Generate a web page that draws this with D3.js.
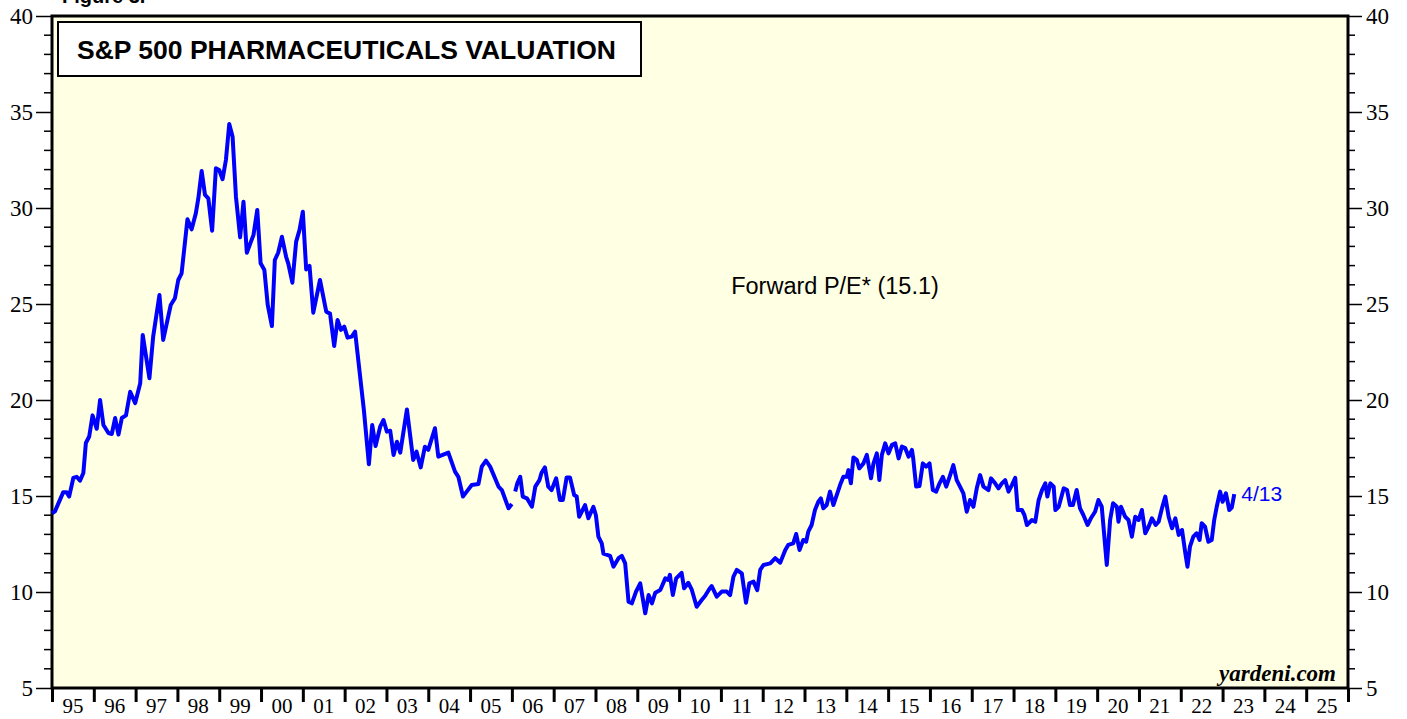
<!DOCTYPE html>
<html>
<head>
<meta charset="utf-8">
<script src="https://cdn.jsdelivr.net/npm/d3@7"></script>
<style>
  body { margin: 0; background: #fff; }
  svg { display: block; }
</style>
</head>
<body>
<svg id="chart"></svg>
<script>
// Forward P/E, first stretch (1995 - end 2005), decimal years
const years1 = [1995.00, 1995.07, 1995.27, 1995.35, 1995.41, 1995.51, 1995.59, 1995.67, 1995.75, 1995.81, 1995.89, 1995.97,
  1996.07, 1996.15, 1996.23, 1996.35, 1996.43, 1996.51, 1996.59, 1996.67, 1996.77, 1996.87, 1996.99,
  1997.11, 1997.17, 1997.33, 1997.42, 1997.57, 1997.66, 1997.84, 1997.94,
  1998.02, 1998.10, 1998.24, 1998.34, 1998.44, 1998.50, 1998.58, 1998.66, 1998.74, 1998.83, 1998.92,
  1999.00, 1999.08, 1999.16, 1999.24, 1999.32, 1999.40, 1999.50, 1999.58, 1999.66, 1999.82, 1999.91, 1999.99,
  2000.08, 2000.16, 2000.26, 2000.33, 2000.41, 2000.50, 2000.60, 2000.65, 2000.75, 2000.84, 2000.92,
  2001.00, 2001.08, 2001.16, 2001.25, 2001.41, 2001.56, 2001.65, 2001.75, 2001.83, 2001.91, 2001.99,
  2002.07, 2002.17, 2002.25, 2002.46, 2002.58, 2002.66, 2002.74, 2002.85, 2002.93,
  2003.01, 2003.09, 2003.17, 2003.25, 2003.33, 2003.49, 2003.64, 2003.72, 2003.82, 2003.92,
  2004.00, 2004.16, 2004.24, 2004.48, 2004.64, 2004.72, 2004.83, 2004.92,
  2005.04, 2005.20, 2005.28, 2005.38, 2005.48, 2005.68, 2005.76, 2005.92, 2006.00];
const pe1 = [14.1, 14.2, 15.2, 15.2, 14.97, 15.94, 16.0, 15.8, 16.2, 17.76, 18.1, 19.2,
  18.5, 20.0, 18.7, 18.28, 18.23, 19.06, 18.2, 19.06, 19.2, 20.43, 19.84,
  20.87, 23.39, 21.13, 23.3, 25.47, 23.13, 24.95, 25.3,
  26.25, 26.6, 29.41, 28.89, 29.72, 30.5, 31.93, 30.68, 30.5, 28.82, 32.07,
  31.98, 31.5, 32.5, 34.38, 33.71, 30.59, 28.47, 30.33, 27.67, 28.6, 29.9, 27.12,
  26.77, 24.95, 23.85, 27.29, 27.67, 28.5, 27.46, 27.12, 26.11, 28.25, 28.85,
  29.81, 26.8, 26.98, 24.55, 26.25, 24.6, 24.5, 22.81, 24.17, 23.65, 23.82,
  23.25, 23.3, 23.56, 19.48, 16.65, 18.7, 17.6, 18.61, 18.96,
  18.35, 18.4, 17.14, 17.83, 17.26, 19.51, 16.88, 17.31, 16.49, 17.57,
  17.4, 18.53, 17.05, 17.26, 16.27, 16.0, 14.97, 15.23,
  15.57, 15.62, 16.53, 16.84, 16.53, 15.49, 15.31, 14.36, 14.58];

// Second stretch (2006 - 4/13/2023)
const years2 = [2006.08, 2006.13, 2006.20, 2006.26, 2006.36, 2006.48, 2006.56, 2006.66, 2006.71, 2006.79, 2006.87, 2006.95,
  2007.06, 2007.15, 2007.22, 2007.31, 2007.39, 2007.49, 2007.55, 2007.61, 2007.67, 2007.75, 2007.83, 2007.95,
  2008.01, 2008.07, 2008.15, 2008.19, 2008.35, 2008.43, 2008.55, 2008.63, 2008.71, 2008.79, 2008.87, 2008.97,
  2009.07, 2009.19, 2009.27, 2009.35, 2009.43, 2009.55, 2009.67, 2009.74, 2009.78, 2009.85, 2009.93,
  2010.06, 2010.12, 2010.22, 2010.30, 2010.42, 2010.54, 2010.62, 2010.72, 2010.78, 2010.90,
  2011.02, 2011.14, 2011.22, 2011.30, 2011.38, 2011.50, 2011.60, 2011.68, 2011.78, 2011.87, 2011.94,
  2012.02, 2012.18, 2012.30, 2012.42, 2012.54, 2012.61, 2012.73, 2012.80, 2012.88, 2012.97,
  2013.04, 2013.09, 2013.17, 2013.25, 2013.33, 2013.39, 2013.45, 2013.53, 2013.61, 2013.69, 2013.77, 2013.85, 2013.93,
  2014.01, 2014.05, 2014.11, 2014.17, 2014.25, 2014.31, 2014.41, 2014.49, 2014.59, 2014.65, 2014.73, 2014.79, 2014.85, 2014.93,
  2015.01, 2015.09, 2015.17, 2015.25, 2015.33, 2015.41, 2015.49, 2015.57, 2015.60, 2015.67, 2015.75, 2015.83, 2015.91, 2015.99,
  2016.07, 2016.15, 2016.23, 2016.31, 2016.39, 2016.47, 2016.56, 2016.64, 2016.72, 2016.80, 2016.88, 2016.96,
  2017.04, 2017.12, 2017.20, 2017.28, 2017.40, 2017.46, 2017.56, 2017.64, 2017.72, 2017.80, 2017.88, 2017.96,
  2018.04, 2018.10, 2018.20, 2018.26, 2018.32, 2018.44, 2018.52, 2018.60, 2018.68, 2018.76, 2018.81, 2018.88, 2018.96,
  2019.00, 2019.08, 2019.20, 2019.28, 2019.35, 2019.42, 2019.51, 2019.59, 2019.67, 2019.77, 2019.85, 2019.95,
  2020.03, 2020.11, 2020.23, 2020.31, 2020.38, 2020.47, 2020.51, 2020.57, 2020.67, 2020.75, 2020.83, 2020.91, 2020.99,
  2021.07, 2021.15, 2021.23, 2021.31, 2021.40, 2021.47, 2021.55, 2021.63, 2021.71, 2021.79, 2021.87, 2021.95,
  2022.03, 2022.11, 2022.16, 2022.22, 2022.30, 2022.38, 2022.45, 2022.50, 2022.58, 2022.66, 2022.74, 2022.80, 2022.86, 2022.94,
  2023.00, 2023.08, 2023.16, 2023.22, 2023.28];
const pe2 = [15.23, 15.66, 16.0, 14.97, 14.88, 14.44, 15.49, 15.83, 16.21, 16.49, 15.49, 15.31,
  15.92, 14.79, 14.79, 15.97, 15.97, 15.05, 14.97, 13.92, 14.18, 14.53, 13.84, 14.44,
  14.0, 12.88, 12.53, 12.0, 11.88, 11.32, 11.76, 11.88, 11.49, 9.5, 9.41, 10.02,
  10.45, 8.89, 9.84, 9.41, 9.96, 10.1, 10.71, 10.63, 10.89, 9.84, 10.71,
  11.0, 10.19, 10.48, 10.14, 9.23, 9.58, 9.79, 10.14, 10.31, 9.76,
  10.02, 10.02, 9.84, 10.8, 11.15, 10.97, 9.44, 10.45, 10.54, 10.1, 11.15,
  11.41, 11.49, 11.76, 11.53, 12.19, 12.45, 12.53, 13.02, 12.19, 12.71,
  12.62, 13.14, 13.49, 14.27, 14.7, 14.88, 14.36, 14.53, 15.23, 14.53, 15.05, 15.57, 16.0,
  16.0, 16.35, 15.66, 17.01, 16.88, 16.44, 16.7, 17.14, 15.92, 16.7, 17.22, 15.83, 17.14, 17.74,
  17.22, 17.66, 17.74, 16.96, 17.57, 17.49, 17.05, 17.4, 16.96, 15.49, 15.52, 16.7, 16.53, 16.7,
  15.31, 15.23, 15.66, 16.0, 15.49, 16.0, 16.61, 15.83, 15.49, 15.14, 14.18, 14.79,
  14.44, 15.4, 16.09, 15.49, 15.31, 15.92, 15.66, 15.4, 15.66, 15.83, 15.23, 15.57,
  15.95, 14.27, 14.27, 14.01, 13.49, 13.75, 13.66, 14.79, 15.31, 15.66, 14.97, 15.66, 15.49,
  14.27, 14.44, 15.4, 15.31, 14.53, 14.53, 15.31, 14.36, 14.01, 13.49, 13.84, 14.18,
  14.79, 14.44, 11.41, 13.75, 14.62, 14.44, 13.66, 14.44, 13.92, 13.75, 12.88, 13.92, 13.75,
  14.27, 13.06, 13.4, 13.84, 13.49, 13.66, 14.36, 14.97, 13.92, 13.32, 13.84, 12.97,
  13.23, 12.01, 11.32, 12.36, 12.88, 13.06, 12.71, 13.58, 13.4, 12.62, 12.71, 13.75, 14.44, 15.23,
  14.7, 15.14, 14.27, 14.4, 15.1];

const yearLabels = ["95","96","97","98","99","00","01","02","03","04","05","06","07","08","09",
  "10","11","12","13","14","15","16","17","18","19","20","21","22","23","24","25"];
const yTicks = [5, 10, 15, 20, 25, 30, 35, 40];

const W = 1407, H = 719;
const mLeft = 52, mRight = 1348, mTop = 16, mBottom = 688;
const serif = "Liberation Serif, Times New Roman, serif";
const sans = "Liberation Sans, Arial, sans-serif";

const svg = d3.select("#chart").attr("width", W).attr("height", H);

const x = d3.scaleLinear().domain([1995, 2026]).range([mLeft, mRight]);
const y = d3.scaleLinear().domain([5, 40]).range([mBottom, mTop]);

// Plot background
svg.append("rect")
  .attr("x", mLeft).attr("y", mTop)
  .attr("width", mRight - mLeft).attr("height", mBottom - mTop)
  .attr("fill", "#ffffe4");

// Figure caption, mostly cut off at the top (as in the original)
svg.append("text")
  .attr("x", 62).attr("y", 3)
  .attr("font-family", sans)
  .attr("font-weight", "bold")
  .attr("font-size", 20)
  .text("Figure 3.");

// Left / right axes with unit minor ticks
const minorTicks = d3.range(5, 41, 1).filter(d => d % 5 !== 0);
const yLeft = d3.axisLeft(y).tickValues(yTicks).tickSize(16).tickPadding(3);
const gl = svg.append("g").attr("transform", `translate(${mLeft},0)`).call(yLeft);
gl.append("g").selectAll("line").data(minorTicks).enter()
  .append("line").attr("x1", -8).attr("x2", 0)
  .attr("y1", d => y(d)).attr("y2", d => y(d)).attr("stroke", "#000").attr("stroke-width", 1.5);

const yRight = d3.axisRight(y).tickValues(yTicks).tickSize(14).tickPadding(4);
const gr = svg.append("g").attr("transform", `translate(${mRight},0)`).call(yRight);
gr.append("g").selectAll("line").data(minorTicks).enter()
  .append("line").attr("x1", 0).attr("x2", 7)
  .attr("y1", d => y(d)).attr("y2", d => y(d)).attr("stroke", "#000").attr("stroke-width", 1.5);

[gl, gr].forEach(g => {
  g.select(".domain").remove();
  g.selectAll(".tick line").attr("stroke-width", 1.5);
  g.selectAll(".tick text")
    .attr("font-family", serif)
    .attr("font-size", 23).attr("fill", "#000");
});

// Bottom axis: ticks at year boundaries, labels centered in each year
const xb = d3.axisBottom(x).tickValues(d3.range(1995, 2027)).tickSize(14).tickFormat("");
const gb = svg.append("g").attr("transform", `translate(0,${mBottom})`).call(xb);
gb.select(".domain").remove();
gb.selectAll(".tick line").attr("stroke-width", 3);
gb.selectAll("text.yl").data(yearLabels).enter()
  .append("text")
  .attr("class", "yl")
  .attr("x", (d, i) => x(1995 + i + 0.5))
  .attr("y", 25)
  .attr("text-anchor", "middle")
  .attr("font-family", serif)
  .attr("font-size", 21)
  .attr("fill", "#000")
  .text(d => d);

// Frame
svg.append("rect")
  .attr("x", mLeft).attr("y", mTop)
  .attr("width", mRight - mLeft).attr("height", mBottom - mTop)
  .attr("fill", "none").attr("stroke", "#000").attr("stroke-width", 3);

// Series
const line = d3.line().x(d => x(d[0])).y(d => y(d[1]));
[[years1, pe1], [years2, pe2]].forEach(([xs, vs]) => {
  svg.append("path")
    .datum(xs.map((t, i) => [t, vs[i]]))
    .attr("d", line)
    .attr("fill", "none")
    .attr("stroke", "#0000ff")
    .attr("stroke-width", 4)
    .attr("stroke-linejoin", "round");
});

// Title box
svg.append("rect")
  .attr("x", 58).attr("y", 22).attr("width", 583).attr("height", 54)
  .attr("fill", "#fff").attr("stroke", "#000").attr("stroke-width", 2);
svg.append("text")
  .attr("x", 77).attr("y", 59)
  .attr("font-family", sans)
  .attr("font-weight", "bold").attr("font-size", 26.5)
  .text("S&P 500 PHARMACEUTICALS VALUATION");

// Annotations
svg.append("text")
  .attr("x", 835).attr("y", 294)
  .attr("text-anchor", "middle")
  .attr("font-family", sans)
  .attr("font-size", 23.5)
  .text("Forward P/E* (15.1)");

const lastYear = years2[years2.length - 1];
svg.append("text")
  .attr("x", x(lastYear) + 7).attr("y", y(pe2[pe2.length - 1]) + 7)
  .attr("font-family", sans)
  .attr("font-size", 21).attr("fill", "#0000ff")
  .text("4/13");

svg.append("text")
  .attr("x", 1336).attr("y", 681)
  .attr("text-anchor", "end")
  .attr("font-family", serif)
  .attr("font-weight", "bold").attr("font-style", "italic")
  .attr("font-size", 23)
  .text("yardeni.com");
</script>
</body>
</html>
